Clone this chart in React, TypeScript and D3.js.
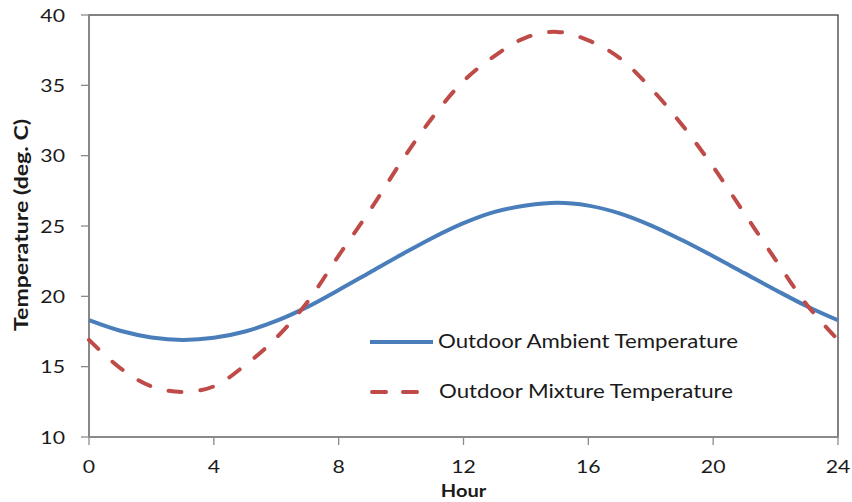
import React from "react";
import * as d3 from "d3";

const hours = [0,1,2,3,4,5,6,7,8,9,10,11,12,13,14,15,16,17,18,19,20,21,22,23,24];
const ambient = [18.3,17.55,17.08,16.9,17.05,17.5,18.25,19.25,20.45,21.7,22.95,24.15,25.2,26.0,26.45,26.65,26.45,25.9,25.05,24.0,22.85,21.65,20.45,19.3,18.3];
const mixture = [16.9,14.9,13.6,13.2,13.6,15.1,17.05,19.6,22.9,26.1,29.55,32.7,35.3,37.1,38.4,38.8,38.2,36.95,34.8,32.2,29.2,25.9,22.6,19.4,16.9];
const xTicks = [0,4,8,12,16,20,24];
const yTicks = [10,15,20,25,30,35,40];
const seriesNames = ["Outdoor Ambient Temperature","Outdoor Mixture Temperature"];

const W = 852, H = 502;
const M = { left: 89, right: 838, top: 15, bottom: 437 };
const SX = 1.18;
const FONT = "Lato, 'Open Sans', sans-serif";

function T({x, y, anchor = "start", size = 17, weight = 400, len, children}: any) {
  return (
    <g transform={`translate(${x},${y}) scale(${SX},1)`}>
      <text x={0} y={0} textAnchor={anchor} fontSize={size} fontWeight={weight} fill="#1a1a1a" fontFamily={FONT}
        {...(len ? { textLength: len / SX, lengthAdjust: "spacingAndGlyphs" } : {})}>{children}</text>
    </g>
  );
}

export default function App() {
  const x = d3.scaleLinear().domain([0, 24]).range([M.left, M.right]);
  const y = d3.scaleLinear().domain([10, 40]).range([M.bottom, M.top]);
  const line = d3.line<number>().x((_, i) => x(hours[i])).y(d => y(d)).curve(d3.curveCatmullRom.alpha(0.5));
  const blue = "#4A7EBB", red = "#BE4B48";
  return (
    <svg width={W} height={H} style={{position: "absolute", left: 0, top: 0, background: "#fff"}}>
      <rect x={0} y={0} width={W} height={H} fill="#fff" />
      <rect x={M.left} y={M.top} width={M.right - M.left} height={M.bottom - M.top} fill="none" stroke="#404040" strokeWidth={1.3} />
      <line x1={M.left} x2={M.left} y1={M.top} y2={M.bottom} stroke="#8c8c8c" strokeWidth={1.3} />
      <line x1={M.left} x2={M.right} y1={M.bottom} y2={M.bottom} stroke="#8c8c8c" strokeWidth={1.3} />
      {yTicks.map(t => (
        <g key={"y" + t}>
          <line x1={M.left - 8} x2={M.left} y1={y(t)} y2={y(t)} stroke="#8c8c8c" strokeWidth={1.3} />
          <T x={65} y={y(t) + 6.5} anchor="end" size={18}>{t}</T>
        </g>
      ))}
      {xTicks.map(t => (
        <g key={"x" + t}>
          <line x1={x(t)} x2={x(t)} y1={M.bottom} y2={M.bottom + 8} stroke="#8c8c8c" strokeWidth={1.3} />
          <T x={x(t)} y={473} anchor="middle" size={18}>{t}</T>
        </g>
      ))}
      <T x={(M.left + M.right) / 2} y={497} anchor="middle" size={17} weight={700}>Hour</T>
      <text transform={`translate(28,225) rotate(-90)`} textAnchor="middle" fontSize={18} fontWeight={700} fill="#1a1a1a" fontFamily={FONT}
        textLength={212} lengthAdjust="spacingAndGlyphs">Temperature (deg. C)</text>
      <path d={line(ambient) || ""} fill="none" stroke={blue} strokeWidth={4} />
      <path d={line(mixture) || ""} fill="none" stroke={red} strokeWidth={4} strokeDasharray="13,19" strokeLinecap="round" />
      <line x1={370} x2={433} y1={342} y2={342} stroke={blue} strokeWidth={4} />
      <T x={438} y={348} size={18.5} len={300}>{seriesNames[0]}</T>
      <line x1={372} x2={420} y1={392} y2={392} stroke={red} strokeWidth={4} strokeDasharray="14,17" strokeLinecap="round" />
      <T x={439} y={398} size={18.5} len={294}>{seriesNames[1]}</T>
    </svg>
  );
}
